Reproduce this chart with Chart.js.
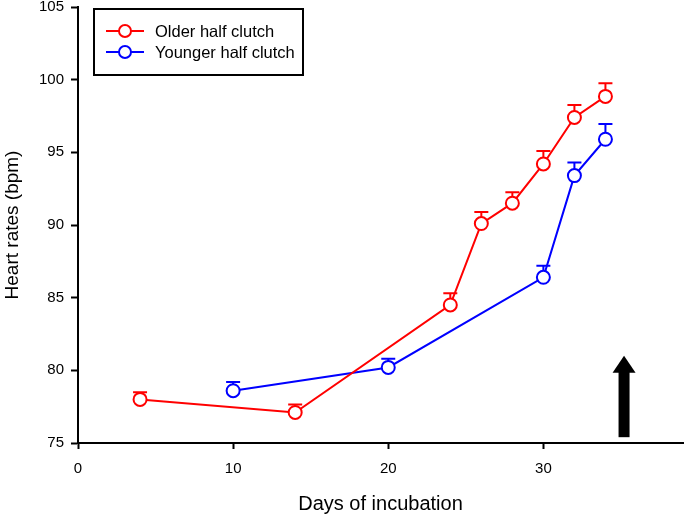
<!DOCTYPE html>
<html>
<head>
<meta charset="utf-8">
<script src="https://cdn.jsdelivr.net/npm/chart.js@4"></script>
<style>
  html, body { margin: 0; padding: 0; background: #fff; }
  #wrap { width: 685px; height: 518px; }
</style>
</head>
<body>
<div id="wrap"><canvas id="heartChart" width="685" height="518"></canvas></div>
<script>
// Heart rate data
const olderDays = [4, 14, 24, 26, 28, 30, 32, 34];
const olderRates = [78.0, 77.1, 84.5, 90.1, 91.5, 94.2, 97.4, 98.85];
const olderErr = [0.5, 0.55, 0.8, 0.8, 0.75, 0.9, 0.85, 0.9];

const youngerDays = [10, 20, 30, 32, 34];
const youngerRates = [78.6, 80.2, 86.4, 93.4, 95.9];
const youngerErr = [0.6, 0.6, 0.8, 0.9, 1.05];

const xTicks = [0, 10, 20, 30];
const yTicks = [75, 80, 85, 90, 95, 100, 105];

// Arrow marker (in data units)
const arrowDay = 35.2;
const arrowFrom = 75.4;
const arrowTo = 81.0;

const colorOlder = '#ff0000';
const colorYounger = '#0000ff';
const fontFamily = '"Liberation Sans", Arial, sans-serif';

const toPoints = (xs, ys) => xs.map((x, i) => ({ x, y: ys[i] }));

// Up-only error bars, drawn under the markers
const errorBars = {
  id: 'errorBars',
  beforeDatasetsDraw(chart) {
    const { ctx, scales: { x, y } } = chart;
    chart.data.datasets.forEach(ds => {
      ctx.save();
      ctx.strokeStyle = ds.borderColor;
      ctx.lineWidth = 2;
      ds.data.forEach((p, i) => {
        const px = x.getPixelForValue(p.x);
        const py = y.getPixelForValue(p.y);
        const top = y.getPixelForValue(p.y + ds.errors[i]);
        ctx.beginPath();
        ctx.moveTo(px, py);
        ctx.lineTo(px, top);
        ctx.moveTo(px - 7, top);
        ctx.lineTo(px + 7, top);
        ctx.stroke();
      });
      ctx.restore();
    });
  },
};

// Black arrow + boxed legend
const extras = {
  id: 'extras',
  afterDraw(chart) {
    const { ctx, scales: { x, y } } = chart;
    ctx.save();

    // arrow
    const ax = x.getPixelForValue(arrowDay);
    const aBottom = y.getPixelForValue(arrowFrom);
    const aTop = y.getPixelForValue(arrowTo);
    ctx.fillStyle = '#000';
    ctx.fillRect(ax - 5.5, aTop + 16, 11, aBottom - aTop - 16);
    ctx.beginPath();
    ctx.moveTo(ax, aTop);
    ctx.lineTo(ax + 11.5, aTop + 17);
    ctx.lineTo(ax - 11.5, aTop + 17);
    ctx.closePath();
    ctx.fill();

    // legend box
    ctx.strokeStyle = '#000';
    ctx.lineWidth = 2;
    ctx.strokeRect(94, 9, 209, 66);
    ctx.font = '16.5px ' + fontFamily;
    ctx.textBaseline = 'middle';
    chart.data.datasets.forEach((ds, i) => {
      const ly = 31 + i * 21;
      ctx.strokeStyle = ds.borderColor;
      ctx.lineWidth = 2;
      ctx.beginPath();
      ctx.moveTo(106, ly);
      ctx.lineTo(144, ly);
      ctx.stroke();
      ctx.beginPath();
      ctx.arc(125, ly, 6, 0, Math.PI * 2);
      ctx.fillStyle = '#fff';
      ctx.fill();
      ctx.stroke();
      ctx.fillStyle = '#000';
      ctx.fillText(ds.label, 155, ly + 1);
    });
    ctx.restore();
  },
};

const datasetStyle = color => ({
  borderColor: color,
  backgroundColor: color,
  pointBorderColor: color,
  pointBackgroundColor: '#fff',
  pointRadius: 6.5,
  pointBorderWidth: 2,
  borderWidth: 2,
  tension: 0,
  fill: false,
});

const ctx = document.getElementById('heartChart').getContext('2d');
const chart = new Chart(ctx, {
  type: 'line',
  data: {
    datasets: [
      {
        label: 'Older half clutch',
        data: toPoints(olderDays, olderRates),
        errors: olderErr,
        ...datasetStyle(colorOlder),
      },
      {
        label: 'Younger half clutch',
        data: toPoints(youngerDays, youngerRates),
        errors: youngerErr,
        ...datasetStyle(colorYounger),
      },
    ],
  },
  options: {
    responsive: false,
    animation: false,
    layout: {
      autoPadding: false,
      padding: { top: 7, right: 2, left: 0, bottom: 0 },
    },
    plugins: {
      legend: { display: false },
      tooltip: { enabled: false },
    },
    scales: {
      x: {
        type: 'linear',
        min: 0,
        max: 39,
        afterBuildTicks: scale => {
          scale.ticks = xTicks.map(value => ({ value }));
        },
        afterFit: scale => {
          scale.height = 75;
          scale.paddingLeft = 0;
          scale.paddingRight = 0;
        },
        border: { color: '#000', width: 2 },
        grid: {
          drawOnChartArea: false,
          color: '#000',
          tickLength: 6,
          tickWidth: 2,
        },
        ticks: {
          color: '#000',
          padding: 12,
          font: { family: fontFamily, size: 15, lineHeight: 1 },
        },
        title: {
          display: true,
          text: 'Days of incubation',
          color: '#000',
          padding: { top: 0, bottom: 2 },
          font: { family: fontFamily, size: 20 },
        },
      },
      y: {
        min: 75,
        max: 105,
        afterBuildTicks: scale => {
          scale.ticks = yTicks.map(value => ({ value }));
        },
        afterFit: scale => {
          scale.width = 78;
          scale.paddingTop = 0;
          scale.paddingBottom = 0;
        },
        border: { color: '#000', width: 2 },
        grid: {
          drawOnChartArea: false,
          color: '#000',
          tickLength: 7,
          tickWidth: 2,
        },
        ticks: {
          color: '#000',
          padding: 7,
          font: { family: fontFamily, size: 15, lineHeight: 1 },
        },
        title: {
          display: true,
          text: 'Heart rates (bpm)',
          color: '#000',
          padding: { top: 1, bottom: 0 },
          font: { family: fontFamily, size: 19 },
        },
      },
    },
  },
  plugins: [errorBars, extras],
});
</script>
</body>
</html>
